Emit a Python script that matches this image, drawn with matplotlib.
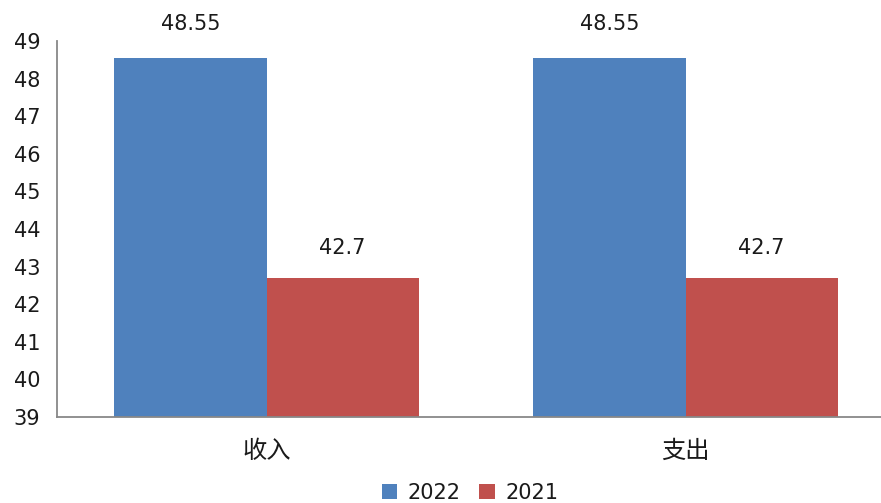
import matplotlib
matplotlib.use("Agg")
import matplotlib.pyplot as plt
import numpy as np

plt.rcParams['font.family'] = ['DejaVu Sans', 'Noto Sans CJK SC']

categories = ['收入', '支出']
series_names = ['2022', '2021']
values_2022 = [48.55, 48.55]
values_2021 = [42.7, 42.7]
label_2022 = ['48.55', '48.55']
label_2021 = ['42.7', '42.7']
yticks = [39, 40, 41, 42, 43, 44, 45, 46, 47, 48, 49]

blue = '#4F81BD'
red = '#C0504D'
txt = '#1a1a1a'

fig = plt.figure(figsize=(8.81, 5.03), dpi=100)
ax = fig.add_axes([57 / 881, 86 / 503, 838 / 881, 376 / 503])

x = np.arange(len(categories))
w = 0.363
b1 = ax.bar(x - w / 2, values_2022, w, color=blue, label=series_names[0])
b2 = ax.bar(x + w / 2, values_2021, w, color=red, label=series_names[1])

for rect, lab in zip(b1, label_2022):
    ax.annotate(lab, (rect.get_x() + rect.get_width() / 2, rect.get_height()),
                xytext=(0, 17), textcoords='offset points', ha='center', va='bottom',
                fontsize=15, color=txt)
for rect, lab in zip(b2, label_2021):
    ax.annotate(lab, (rect.get_x() + rect.get_width() / 2, rect.get_height()),
                xytext=(0, 14.5), textcoords='offset points', ha='center', va='bottom',
                fontsize=15, color=txt)

ax.set_xlim(-0.5, 1.5)
ax.set_ylim(39, 49)
ax.set_yticks(yticks)
ax.set_yticklabels([str(t) for t in yticks], fontsize=15, color=txt)
ax.set_xticks(x)
ax.set_xticklabels(categories, fontsize=17.5, color=txt, family=['Noto Sans CJK SC', 'DejaVu Sans'])
ax.tick_params(axis='y', length=0, pad=12)
ax.tick_params(axis='x', length=0, pad=15)

for s in ['top', 'right']:
    ax.spines[s].set_visible(False)
for s in ['left', 'bottom']:
    ax.spines[s].set_color('#888888')
    ax.spines[s].set_linewidth(1.3)

leg = fig.legend(handles=[b1, b2], labels=series_names, loc='center', bbox_to_anchor=(470 / 881, 1 - 493 / 503),
                 ncol=2, frameon=False, fontsize=15, handlelength=0.75, handleheight=0.75,
                 handletextpad=0.5, columnspacing=0.9)
for t in leg.get_texts():
    t.set_color(txt)

fig.savefig('out.png', dpi=100)
